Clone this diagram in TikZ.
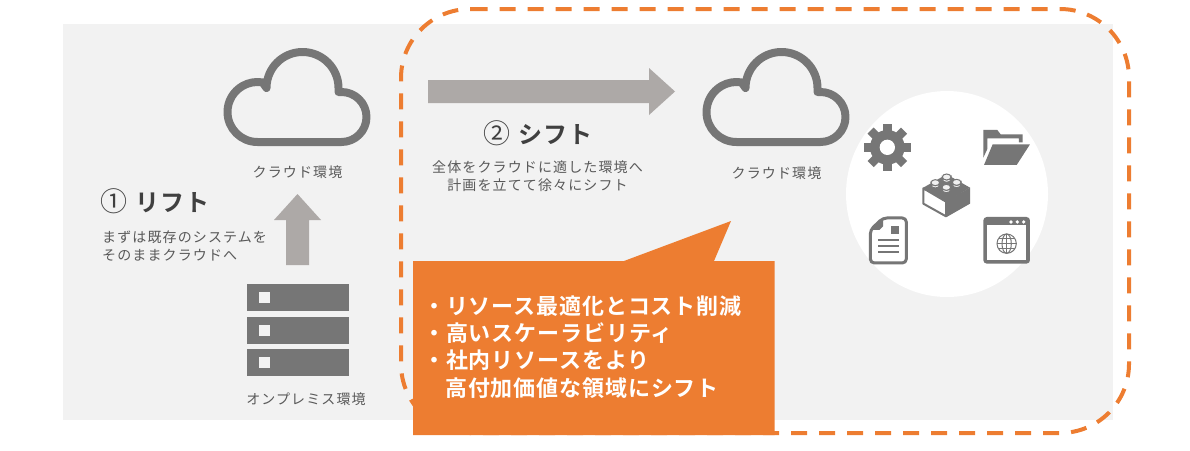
\documentclass[tikz,border=0pt]{standalone}
\usepackage{fontspec}
\newfontfamily\jp[LetterSpace=8]{Noto Sans CJK JP}
\newfontfamily\jpb[LetterSpace=4]{Noto Sans CJK JP Bold}
\newfontfamily\jph[LetterSpace=4]{Noto Sans CJK JP Bold}
\newfontfamily\jpn{Noto Sans CJK JP}
\definecolor{bgg}{HTML}{F2F2F2}
\definecolor{ico}{HTML}{767676}
\definecolor{arr}{HTML}{ADA9A7}
\definecolor{org}{HTML}{ED7D31}
\definecolor{txt}{HTML}{595959}
\definecolor{hd}{HTML}{404040}
\newcommand{\circnum}[1]{{\jpn\fontsize{27}{28}\selectfont #1}\hspace{8pt}}
\tikzset{
 x=1pt,y=-1pt,
 small/.style={font=\jp\fontsize{14}{18}\selectfont,text=txt,inner sep=0pt,align=center},
 head/.style={font=\jph\fontsize{24}{28}\selectfont,text=hd,inner sep=0pt,anchor=west},
 cloud/.pic={\draw[ico,line width=8pt,line join=round](258,142) arc(90:280:30) -- (267,88) arc(180:360:36) -- (339,92) -- (342,92) arc(270:450:25) -- cycle;},
 stud/.style={fill=black!6,draw=ico,line width=1pt},
 thin ico/.style={draw=ico,line width=1pt},
}
\begin{document}
\begin{tikzpicture}
\useasboundingbox (0,0) rectangle (1190,450);
\fill[bgg] (63,24) rectangle (1113,420);
\draw[org,line width=4pt,dash pattern=on 16pt off 12pt]
 (471.7,9) -- (1060,9) arc(270:360:69) -- (1129,364) arc(0:90:69) -- (470,433) arc(90:180:69) -- (401,78) arc(180:270:69) -- (471.7,9);
\pic at (-0.5,0) {cloud};
\pic at (478.5,0) {cloud};
\fill[arr] (428,80) -- (649,80) -- (649,68) -- (675,91.5) -- (649,115) -- (649,103) -- (428,103) -- cycle;
\fill[arr] (297.5,194) -- (321,220) -- (309,220) -- (309,265) -- (286,265) -- (286,220) -- (274,220) -- cycle;
\foreach \y in {284,317,349}{
 \fill[ico] (247,\y) rectangle (349,\y+27);
 \fill[bgg] (259,\y+8) rectangle (270,\y+19);
}
\node[small] (c1) at (297.5,172) {クラウド環境};
\node[small] (c2) at (776.5,173) {クラウド環境};
\node[small] (op) at (306,399) {オンプレミス環境};
\node[head] (h1) at (100,201) {\circnum{①}リフト};
\node[head] (h2) at (483,133) {\circnum{②}シフト};
\node[small,anchor=west,align=left] (t1) at (102,246) {まずは既存のシステムを\\そのままクラウドへ};
\node[small] (t2) at (537.5,176) {全体をクラウドに適した環境へ\\計画を立てて徐々にシフト};
\fill[white] (947,194) ellipse [x radius=101,y radius=103];
\begin{scope}[shift={(840,85)},x=0.3333pt,y=-0.3333pt]
 % gear
 \fill[ico] (142,187) circle (52);
 \foreach \a in {0,45,...,315}
  \fill[ico,rotate around={\a:(142,187)}] (129,116) rectangle (155,150);
 \fill[white] (142,187) circle (23);
 % folder
 \fill[ico] (430,135) -- (472,135) -- (482,148) -- (548,148) -- (548,172) -- (537,172) -- (537,160) -- (442,160) -- (442,192) -- (430,218) -- cycle;
 \fill[ico] (458,178) -- (570,178) -- (530,240) -- (432,240) -- cycle;
 % block
 \fill[ico] (320,347) -- (390,308) -- (390,356) -- (320,396) -- cycle;
 \fill[ico] (250,308) -- (320,268) -- (390,308) -- (320,350) -- cycle;
 \fill[white] (250,310) -- (318,350) -- (318,394) -- (250,356) -- cycle;
 \draw[ico,line width=2pt,line join=round] (250,310) -- (318,350) -- (318,394) -- (250,356) -- cycle;
 \foreach \p in {(286,293),(320,276),(350,292),(319,307)}{
  \draw[stud] \p ++(-13,0) -- ++(0,7) arc(180:0:13 and 9) -- ++(0,-7) arc(0:180:13 and 9) -- cycle;
  \draw[stud] \p ellipse [x radius=13,y radius=9];
 }
 % document
 \fill[white] (90,435) -- (128,398) -- (188,398) -- (200,410) -- (200,525) -- (188,535) -- (102,535) -- (90,525) -- cycle;
 \draw[ico,line width=3pt,rounded corners=4pt,line join=round] (91,435) -- (129,399) -- (199,399) -- (199,534) -- (91,534) -- cycle;
 \fill[ico] (91,435) -- (129,399) -- (129,424) -- (118,435) -- cycle;
 \fill[ico] (152,422) rectangle (176,447);
 \foreach \y in {465,483,502} \fill[ico] (115,\y-3) rectangle (176,\y+3);
 % browser
 \fill[ico,rounded corners=3.5pt] (430,396) rectangle (570,536);
 \fill[white] (441,420) rectangle (558,524);
 \foreach \x in {513,532,551} \fill[white] (\x,411) circle (5.5);
 \draw[thin ico] (500,476) circle (29);
 \draw[thin ico] (500,476) ellipse [x radius=14,y radius=29];
 \draw[thin ico] (500,447) -- (500,505) (471,476) -- (529,476);
 \draw[thin ico] (476,461) -- (524,461) (476,491) -- (524,491);
\end{scope}
\fill[org] (413,261) -- (624,261) -- (731,221) -- (714,261) -- (774.5,261) -- (774.5,435) -- (413,435) -- cycle;
\node[font=\jpb\fontsize{22}{27.2}\selectfont,text=white,inner sep=0pt,align=left,anchor=west] (t3) at (423,347) {・リソース最適化とコスト削減\\・高いスケーラビリティ\\・社内リソースをより\\\hphantom{・}高付加価値な領域にシフト};
\end{tikzpicture}
\end{document}
